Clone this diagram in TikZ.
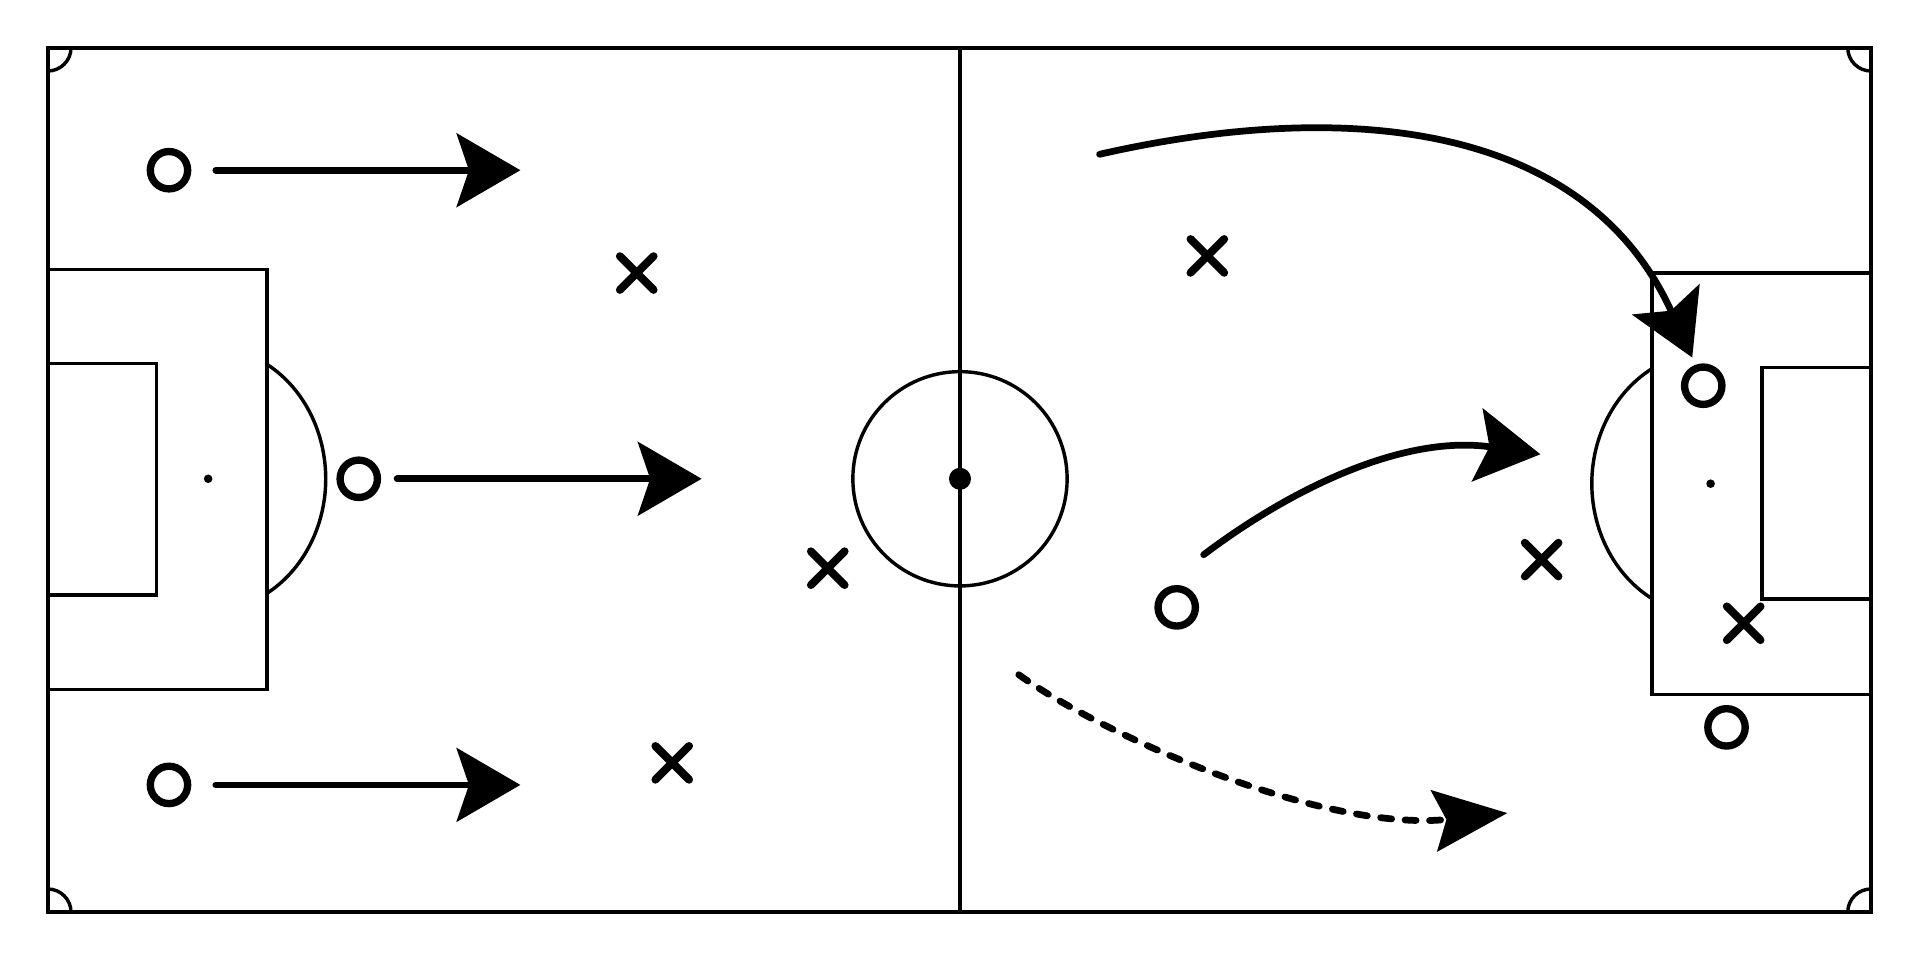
\documentclass[tikz,border=0pt]{standalone}
\usepackage{tikz}
\usetikzlibrary{arrows.meta,shapes.misc}

\begin{document}
\begin{tikzpicture}[x=0.01cm,y=-0.01cm,
    field/.style={line width=0.028cm},
    player/.style={circle,draw,line width=0.06cm,minimum size=0.305cm,inner sep=0pt},
    rival/.style={cross out,draw,line width=0.065cm,line cap=round,minimum size=0.21cm,inner sep=0pt},
    run/.style={line width=0.055cm,line cap=round,-{Stealth[length=0.52cm,width=0.6cm,inset=0.1cm]}},
    pass/.style={run,dash pattern=on 0.09cm off 0.11cm,-{Stealth[length=0.6cm,width=0.5cm,inset=0.1cm]}}]
  \useasboundingbox (0,0) rectangle (1568,784);
  \draw[line width=0.034cm] (39,39) rectangle (1528,745);
  \draw[field] (784,39) -- (784,745);
  \draw[field] (784,391) circle[radius=87.5];
  \fill (784,391) circle[radius=9];
  \draw[field] (39,220) rectangle (218,563) (39,297) rectangle (128,486);
  \draw[field] (1349,223) rectangle (1528,567) (1439,300) rectangle (1528,489);
  \fill (170,391) circle[radius=3.5] (1397,395) circle[radius=3.5];
  \draw[field] (218,297.5) arc[start angle=-60,end angle=60,x radius=96,y radius=108];
  \draw[field] (1348.5,488.5) arc[start angle=120,end angle=240,x radius=97,y radius=108];
  \draw[field] (58,39) arc[start angle=0,end angle=90,radius=19]
    (1509,39) arc[start angle=180,end angle=90,radius=19]
    (39,726) arc[start angle=-90,end angle=0,radius=19]
    (1509,745) arc[start angle=180,end angle=270,radius=19];

  \node[player] (p1) at (138,139) {};
  \node[player] (p2) at (293,391) {};
  \node[player] (p3) at (138,641) {};
  \node[player] (p4) at (961,496) {};
  \node[player] (p5) at (1391,315) {};
  \node[player] (p6) at (1410,594) {};

  \node[rival] (r1) at (520,223) {};
  \node[rival] (r2) at (676,464) {};
  \node[rival] (r3) at (549,623) {};
  \node[rival] (r4) at (986,209) {};
  \node[rival] (r5) at (1259,457) {};
  \node[rival] (r6) at (1424,509) {};

  \coordinate (a1) at (425,139);
  \coordinate (a2) at (573,391);
  \coordinate (a3) at (425,641);
  \coordinate (c1) at (898,126);
  \coordinate (c2) at (1382,292);
  \coordinate (m1) at (983,453);
  \coordinate (m2) at (1258,371);
  \coordinate (d1) at (832,551);
  \coordinate (d2) at (1231,664);

  \draw[run,shorten <=0.2cm] (p1) -- (a1);
  \draw[run,shorten <=0.13cm] (p2) -- (a2);
  \draw[run,shorten <=0.2cm] (p3) -- (a3);
  \draw[run] (c1) .. controls (1100,80) and (1295,100) .. (c2);
  \draw[run] (m1) .. controls (1060,395) and (1150,355) .. (m2);
  \draw[pass] (d1) .. controls (900,600) and (1080,680) .. (d2);
\end{tikzpicture}
\end{document}
